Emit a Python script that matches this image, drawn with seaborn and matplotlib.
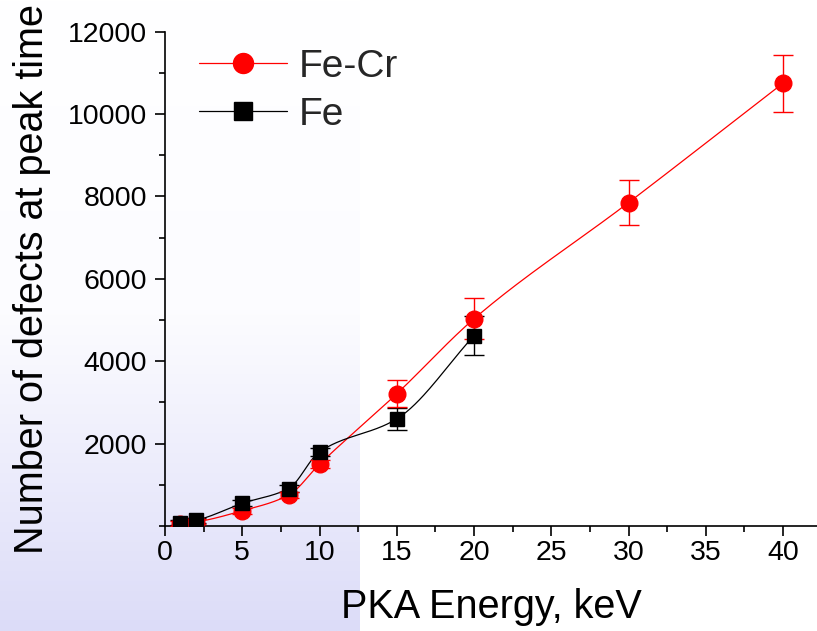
import numpy as np
import pandas as pd
import matplotlib
matplotlib.use("Agg")
import matplotlib.pyplot as plt
import seaborn as sns
from matplotlib.ticker import MultipleLocator
from matplotlib.colors import LinearSegmentedColormap

# ---- data ----
energy_fecr = [1, 2, 5, 8, 10, 15, 20, 30, 40]
defects_fecr = [60, 100, 370, 750, 1500, 3210, 5030, 7850, 10750]
err_fecr = [60, 60, 70, 80, 100, 330, 500, 550, 690]

energy_fe = [1, 2, 5, 8, 10, 15, 20]
defects_fe = [80, 140, 550, 910, 1800, 2600, 4620]
err_fe = [60, 60, 70, 80, 100, 270, 470]

xticks = [0, 5, 10, 15, 20, 25, 30, 35, 40]
yticks = [2000, 4000, 6000, 8000, 10000, 12000]


def smooth(x, y, n=200):
    """Monotone cubic (Fritsch-Carlson) curve through the points for drawing."""
    x = np.asarray(x, float); y = np.asarray(y, float)
    h = np.diff(x); d = np.diff(y) / h
    m = np.zeros_like(y)
    m[0], m[-1] = d[0], d[-1]
    for i in range(1, len(x) - 1):
        if d[i - 1] * d[i] <= 0:
            m[i] = 0
        else:
            w1 = 2 * h[i] + h[i - 1]; w2 = h[i] + 2 * h[i - 1]
            m[i] = (w1 + w2) / (w1 / d[i - 1] + w2 / d[i])
    xs = np.linspace(x[0], x[-1], n)
    idx = np.clip(np.searchsorted(x, xs) - 1, 0, len(x) - 2)
    t = (xs - x[idx]) / h[idx]
    h00 = 2 * t**3 - 3 * t**2 + 1; h10 = t**3 - 2 * t**2 + t
    h01 = -2 * t**3 + 3 * t**2; h11 = t**3 - t**2
    ys = h00 * y[idx] + h10 * h[idx] * m[idx] + h01 * y[idx + 1] + h11 * h[idx] * m[idx + 1]
    return xs, ys


sns.set_theme(style="ticks")
plt.rcParams['font.family'] = ['Liberation Sans', 'DejaVu Sans']

fig = plt.figure(figsize=(8.17, 6.31), dpi=100)

# gradient panel in background
bg = fig.add_axes([0, 0, 360 / 817, 1], zorder=0)
cmap = LinearSegmentedColormap.from_list("g", ["#ffffff", "#fcfcff", "#dcdcf8"])
grad = np.linspace(0, 1, 256).reshape(-1, 1)
bg.imshow(grad, aspect="auto", cmap=cmap, extent=[0, 1, 1, 0])
bg.axis("off")

ax = fig.add_axes([165 / 817, (631 - 526) / 631, (817 - 165) / 817, (526 - 31.7) / 631], zorder=1)
ax.patch.set_alpha(0)

red = "#ff0000"
blk = "#000000"

xs, ys = smooth(energy_fecr, defects_fecr)
sns.lineplot(x=xs, y=ys, ax=ax, color=red, lw=0.9, zorder=2)
xs2, ys2 = smooth(energy_fe, defects_fe)
sns.lineplot(x=xs2, y=ys2, ax=ax, color=blk, lw=0.9, zorder=2)

ax.errorbar(energy_fe, defects_fe, yerr=err_fe, fmt="none", ecolor=blk, elinewidth=1, capsize=7.5, capthick=1, zorder=3)
ax.errorbar(energy_fecr, defects_fecr, yerr=err_fecr, fmt="none", ecolor=red, elinewidth=1, capsize=7.5, capthick=1, zorder=3)
ax.plot(energy_fecr, defects_fecr, "o", color=red, ms=12, mec=red, zorder=4)
ax.plot(energy_fe, defects_fe, "s", color=blk, ms=10.3, mec=blk, zorder=5)

# legend handles
h1, = ax.plot([], [], "-o", color=red, lw=0.9, ms=14.4)
h2, = ax.plot([], [], "-s", color=blk, lw=0.9, ms=12.5)
ax.legend([h1, h2], ["Fe-Cr", "Fe"], loc="upper left", bbox_to_anchor=(0.052, 0.965), frameon=False,
          borderpad=0, borderaxespad=0,
          fontsize=28, handlelength=2.26, handletextpad=0.3, labelspacing=0.3)

ax.set_xlim(0, 42.2)
ax.set_ylim(0, 12000)
ax.set_xticks(xticks)
ax.set_xticklabels([str(v) for v in xticks])
ax.set_yticks(yticks)
ax.set_yticklabels([str(v) for v in yticks])
ax.xaxis.set_minor_locator(MultipleLocator(2.5))
ax.yaxis.set_minor_locator(MultipleLocator(1000))
ax.tick_params(which="major", direction="out", length=7, width=1.2, labelsize=20.5, color="black", labelcolor="black")
ax.tick_params(axis="y", which="major", pad=6)
ax.tick_params(axis="x", which="major", pad=3)
ax.tick_params(which="minor", direction="out", length=4, width=1.2, color="black")
sns.despine(ax=ax)
for s in ["left", "bottom"]:
    ax.spines[s].set_linewidth(1.2)
    ax.spines[s].set_color("black")

ax.set_xlabel("PKA Energy, keV", fontsize=28.5, labelpad=16, color="black")
ax.set_ylabel("Number of defects at peak time", fontsize=28.5, labelpad=12, color="black")

fig.savefig("out.png", dpi=100)
